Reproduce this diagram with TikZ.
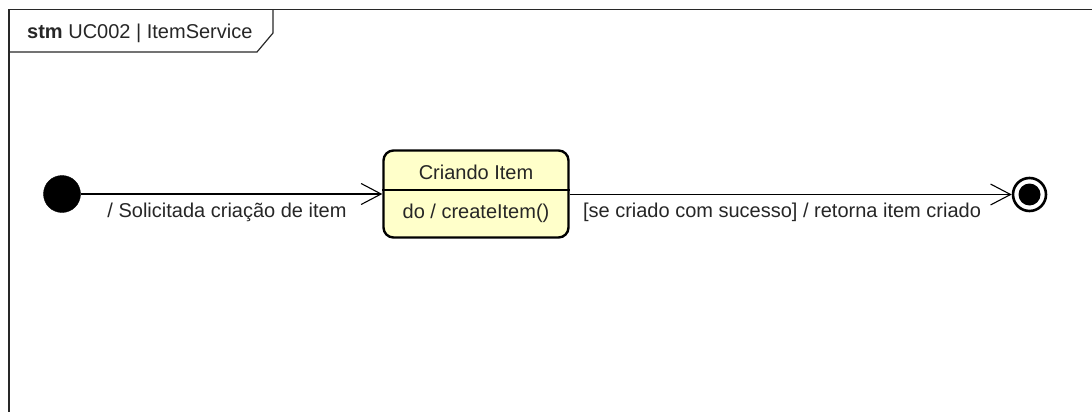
\documentclass[tikz,border=0pt]{standalone}
\usepackage{fontspec}
\setmainfont{Liberation Sans}
\usetikzlibrary{arrows.meta}
\definecolor{stfill}{RGB}{255,255,202}
\definecolor{framecol}{RGB}{40,40,40}
\tikzset{
  frameline/.style={draw=framecol, line width=1.5pt},
  initnode/.style={circle, fill=black, draw=black, minimum size=37pt, inner sep=0pt},
  statebox/.style={rectangle, rounded corners=10pt, draw=black, line width=2.4pt, fill=stfill, minimum width=185pt, minimum height=87pt, inner sep=0pt},
  finalouter/.style={circle, draw=black, line width=2.6pt, minimum size=33pt, inner sep=0pt},
  finalinner/.style={circle, fill=black, minimum size=22pt, inner sep=0pt},
  trans/.style={draw=black, line width=1.1pt, -{Straight Barb[length=20pt, width=21pt, line width=1.1pt]}},
  lbl/.style={font=\fontsize{20}{24}\selectfont, inner sep=0pt, text=black!85},
}
\begin{document}
\begin{tikzpicture}[x=1pt, y=-1pt]
\useasboundingbox (0,0) rectangle (1092,412);
% frame
\draw[frameline] (9,412) -- (9,9.5) -- (1092,9.5);
\draw[frameline, line width=1.2pt] (9,52) -- (257,52) -- (273,33) -- (273,9.5);
\node[lbl, anchor=west] (title) at (27,33) {\textbf{stm} UC002 | ItemService};
% nodes
\node[initnode] (init) at (62,194) {};
\node[statebox] (state) at (476,194) {};
\draw[line width=1.2pt] ([yshift=4pt]state.west) -- ([yshift=4pt]state.east);
\node[lbl] (sname) at (476,172) {Criando Item};
\node[lbl] (sdo) at (476,213) {do / createItem()};
\node[finalouter] (final) at (1029.5,194.5) {};
\node[finalinner] (finaldot) at (final.center) {};
% transitions
\draw[trans] (init) -- (state.west |- init);
\draw[trans] (state.east |- final) -- (final);
\node[lbl] (l1) at (227,212) {/ Solicitada criação de item};
\node[lbl] (l2) at (782,212) {[se criado com sucesso] / retorna item criado};
\end{tikzpicture}
\end{document}
